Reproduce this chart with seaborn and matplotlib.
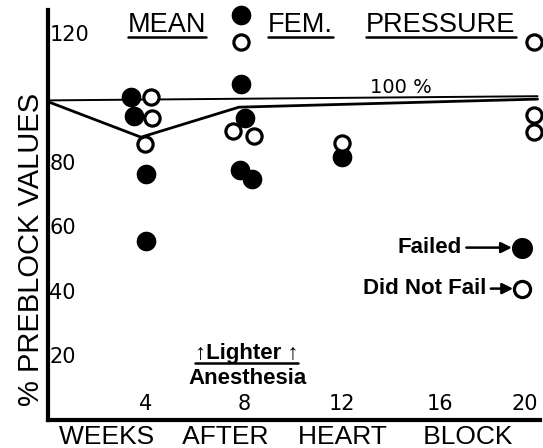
#!/usr/bin/env python3
"""Mean femoral pressure after heart block, as % of preblock values."""

import pandas as pd
import matplotlib
matplotlib.use("Agg")
import matplotlib.pyplot as plt
from matplotlib.lines import Line2D
from matplotlib.transforms import IdentityTransform
import seaborn as sns

# --- data (weeks after block, % of preblock) ---
failed_weeks = [3.4, 3.5, 4.0, 4.0, 7.9, 7.9, 8.05, 7.85, 8.35, 12.0]
failed_values = [100.0, 94.1, 76.1, 55.6, 125.5, 104.0, 93.5, 77.3, 74.8, 81.4]

ok_weeks = [4.2, 4.25, 3.95, 7.9, 7.55, 8.4, 12.0, 19.85, 19.85, 19.85]
ok_values = [100.0, 93.5, 85.4, 117.1, 89.4, 87.9, 85.7, 117.1, 94.4, 89.1]

mean_weeks = [0, 3.8, 7.8, 20]
mean_values = [98.6, 87.6, 96.9, 99.4]

ref_weeks = [0, 20]
ref_values = [99.0, 100.3]

x_ticks = [4, 8, 12, 16, 20]
y_ticks = [20, 40, 60, 80, 100, 120]
y_tick_labels = ["20", "40", "60", "80", "", "120"]


def main():
    sns.set_theme(style="white", rc={"text.color": "black",
                                     "axes.labelcolor": "black",
                                     "xtick.color": "black",
                                     "ytick.color": "black"})
    plt.rcParams["font.family"] = ["Liberation Sans", "DejaVu Sans"]

    fig = plt.figure(figsize=(5.43, 4.48), dpi=100)
    ax = fig.add_axes([48 / 543, 28 / 448, 492 / 543, 410 / 448])

    failed = pd.DataFrame({"week": failed_weeks, "value": failed_values})
    ok = pd.DataFrame({"week": ok_weeks, "value": ok_values})
    mean = pd.DataFrame({"week": mean_weeks, "value": mean_values})
    ref = pd.DataFrame({"week": ref_weeks, "value": ref_values})

    sns.lineplot(data=ref, x="week", y="value", color="black", lw=1.4, ax=ax)
    sns.lineplot(data=mean, x="week", y="value", color="black", lw=2.0, ax=ax)

    sns.scatterplot(data=failed, x="week", y="value", color="black", s=200,
                    edgecolor="black", linewidth=0, ax=ax, clip_on=False,
                    zorder=4)
    sns.scatterplot(data=ok, x="week", y="value", facecolor="white", s=120,
                    edgecolor="black", linewidth=2.3, ax=ax, clip_on=False,
                    zorder=4)

    ax.set_xlim(0, 20.1)
    ax.set_ylim(0, 127)

    for side in ["top", "right"]:
        ax.spines[side].set_visible(False)
    for side in ["left", "bottom"]:
        ax.spines[side].set_linewidth(3)
        ax.spines[side].set_color("black")

    tick_font = dict(family="DejaVu Sans", size=15)
    ax.set_xticks(x_ticks)
    ax.set_xticklabels([str(t) for t in x_ticks], va="bottom", **tick_font)
    ax.get_xticklabels()[-1].set_ha("right")
    ax.set_yticks(y_ticks)
    ax.set_yticklabels(y_tick_labels, ha="left", **tick_font)
    ax.tick_params(axis="x", direction="inout", length=8, width=2, pad=-8)
    ax.tick_params(axis="y", direction="inout", length=8, width=2, pad=-5)

    ax.set_xlabel("WEEKS    AFTER    HEART     BLOCK", fontsize=19)
    ax.xaxis.set_label_coords(0.484, -0.012)
    ax.set_ylabel("% PREBLOCK VALUES", fontsize=21)
    ax.yaxis.set_label_coords(-0.006, 0.415)

    # title words, each underlined
    title_words = [("MEAN", 4.86), ("FEM.", 10.3), ("PRESSURE", 16.05)]
    under = []
    for word, xpos in title_words:
        t = ax.text(xpos, 122.2, word, fontsize=19.5, ha="center",
                    va="center", clip_on=False)
        under.append(t)

    ax.text(14.4, 103.1, "100 %", family="DejaVu Sans", fontsize=14,
            ha="center", va="center")

    t = ax.text(8.1, 20.5, "\u2191Lighter \u2191", fontsize=16, ha="center",
                va="center", fontweight="bold")
    under.append(t)
    ax.text(8.17, 13.0, "Anesthesia", fontsize=16, ha="center", va="center",
            fontweight="bold")

    # legend drawn as annotations with arrows
    ax.annotate("Failed", xy=(18.95, 53.4), xytext=(16.9, 53.4), fontsize=16,
                fontweight="bold", ha="right", va="center",
                arrowprops=dict(arrowstyle="-|>", color="black", lw=1.8,
                                shrinkA=1, shrinkB=0))
    ax.scatter([19.36], [53.4], s=200, color="black", clip_on=False, zorder=4)
    ax.annotate("Did Not Fail", xy=(19.0, 40.7), xytext=(17.9, 40.7),
                fontsize=16, fontweight="bold", ha="right", va="center",
                arrowprops=dict(arrowstyle="-|>", color="black", lw=1.8,
                                shrinkA=1, shrinkB=0))
    ax.scatter([19.36], [40.7], s=135, facecolor="white", edgecolor="black",
               linewidth=2.3, clip_on=False, zorder=4)

    # underline texts
    fig.canvas.draw()
    renderer = fig.canvas.get_renderer()
    for t in under:
        bb = t.get_window_extent(renderer)
        fig.add_artist(Line2D([bb.x0, bb.x1], [bb.y0 + 1, bb.y0 + 1],
                              transform=IdentityTransform(), color="black",
                              lw=1.8))

    fig.savefig("out.png", dpi=100)
    plt.close(fig)


if __name__ == "__main__":
    main()
